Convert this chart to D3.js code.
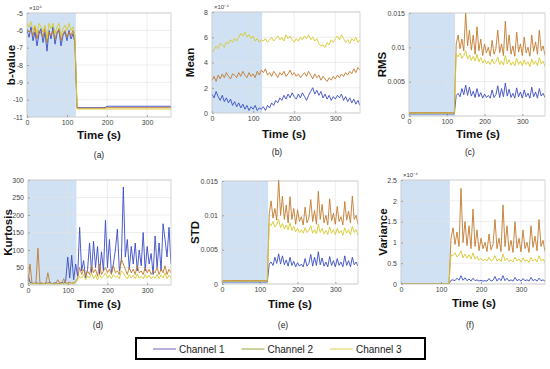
<!DOCTYPE html>
<html><head><meta charset="utf-8">
<script src="https://cdn.jsdelivr.net/npm/d3@7"></script>
<style>body{margin:0;background:#fff}svg{display:block}text{font-family:"Liberation Sans",Arial,sans-serif}</style>
</head><body><svg id="c" width="550" height="369"></svg>
<script>
// ---------- DATA ----------
const time = [0,5,10,15,20,25,30,35,40,45,50,55,60,65,70,75,80,85,90,95,100,105,110,115,120,
  125,130,135,140,145,150,155,160,165,170,175,180,185,190,195,200,205,210,215,220,225,230,235,240,
  245,250,255,260,265,270,275,280,285,290,295,300,305,310,315,320,325,330,335,340,345,350,355,360];
const shadeEnd = 122;
const xTicks = [0,100,200,300];
const channels = ["Channel 1","Channel 2","Channel 3"];
const lineColors = ["#3b4cc4","#c27a2e","#d6ca2c"];
const legendColors = ["#7a5cc0","#98a23c","#dcd44a"];

// b-value (x10^4)
const bvalCh1 = [-6.0,-6.4,-5.8,-6.6,-6.1,-6.9,-6.2,-5.9,-6.7,-6.1,-7.2,-6.0,-6.5,-5.8,-6.8,-6.2,-6.0,-6.9,-6.3,-6.1,-6.6,-6.0,-6.5,-6.2,-6.7,
  -10.46,-10.46,-10.46,-10.46,-10.46,-10.46,-10.46,-10.46,-10.46,-10.46,-10.46,-10.46,-10.46,-10.46,-10.46,
  -10.38,-10.38,-10.38,-10.38,-10.38,-10.38,-10.38,-10.38,-10.38,-10.38,-10.38,-10.38,-10.38,-10.38,-10.38,-10.38,-10.38,
  -10.38,-10.38,-10.38,-10.38,-10.38,-10.38,-10.38,-10.38,-10.38,-10.38,-10.38,-10.38,-10.38,-10.38,-10.38,-10.38];
const bvalCh2 = [-5.9,-6.1,-6.0,-6.3,-5.8,-6.5,-6.0,-6.2,-6.4,-5.9,-6.7,-6.1,-6.3,-6.0,-6.5,-6.1,-5.9,-6.6,-6.2,-6.0,-6.4,-6.1,-6.3,-6.0,-6.8,
  -10.49,-10.49,-10.49,-10.49,-10.49,-10.49,-10.49,-10.49,-10.49,-10.49,-10.49,-10.49,-10.49,-10.49,-10.49,
  -10.46,-10.46,-10.46,-10.46,-10.46,-10.46,-10.46,-10.46,-10.46,-10.46,-10.46,-10.46,-10.46,-10.46,-10.46,-10.46,-10.46,
  -10.46,-10.46,-10.46,-10.46,-10.46,-10.46,-10.46,-10.46,-10.46,-10.46,-10.46,-10.46,-10.46,-10.46,-10.46,-10.46];
const bvalCh3 = [-5.6,-5.8,-5.5,-6.0,-5.7,-6.2,-5.6,-5.8,-6.1,-5.7,-6.5,-5.6,-5.9,-5.6,-6.2,-5.8,-5.6,-6.3,-5.9,-5.7,-6.0,-5.6,-6.0,-5.8,-6.3,
  -10.54,-10.54,-10.54,-10.54,-10.54,-10.54,-10.54,-10.54,-10.54,-10.54,-10.54,-10.54,-10.54,-10.54,-10.54,
  -10.54,-10.54,-10.54,-10.54,-10.54,-10.54,-10.54,-10.54,-10.54,-10.54,-10.54,-10.54,-10.54,-10.54,-10.54,-10.54,-10.54,
  -10.54,-10.54,-10.54,-10.54,-10.54,-10.54,-10.54,-10.54,-10.54,-10.54,-10.54,-10.54,-10.54,-10.54,-10.54,-10.54];

// Mean (x10^-4)
const meanCh1 = [1.5,1.2,1.7,1.3,1.0,1.4,0.9,1.2,0.8,1.1,0.6,0.9,0.5,0.8,0.4,0.7,0.3,0.6,0.2,0.5,0.3,0.6,0.2,0.4,0.3,
  0.5,0.2,0.6,0.4,0.8,0.6,1.0,0.8,1.2,1.0,1.4,1.1,1.5,1.2,1.6,1.3,1.1,1.5,1.2,1.6,1.3,1.0,1.4,1.7,
  2.0,1.5,1.8,1.4,1.7,1.2,1.5,1.1,1.4,1.0,1.3,1.1,1.4,1.2,1.5,1.0,1.3,0.9,1.2,0.8,1.1,0.7,1.0,0.6];
const meanCh2 = [2.6,2.9,2.5,3.0,2.7,3.1,2.8,3.2,2.9,2.7,3.1,3.0,2.8,3.2,2.9,3.3,3.0,2.8,3.2,2.9,3.1,2.8,3.3,3.0,3.4,
  3.2,3.5,3.0,3.2,2.9,3.3,3.1,2.8,3.2,3.0,3.3,2.9,3.1,3.4,3.0,3.2,2.9,3.1,2.8,3.0,3.2,2.9,3.3,3.0,
  2.7,3.1,2.8,3.0,2.6,2.9,2.7,2.5,2.8,2.6,2.9,2.7,3.0,2.8,3.1,2.9,3.2,3.0,3.3,3.1,3.5,3.2,3.6,3.4];
const meanCh3 = [4.8,5.0,5.3,5.1,5.5,5.4,5.2,5.6,5.5,5.8,5.6,5.9,5.7,6.0,6.3,6.1,6.4,6.0,6.2,5.9,6.1,5.7,5.9,5.6,5.8,
  5.7,5.9,5.6,5.8,6.0,5.7,5.9,6.1,5.8,6.0,5.7,6.2,5.9,6.1,5.8,5.6,5.9,5.7,6.0,5.8,6.1,5.9,6.2,5.8,
  6.0,5.7,5.9,5.5,5.3,5.4,5.2,5.6,5.4,5.8,5.6,5.9,6.1,5.8,6.2,5.9,5.6,5.8,5.5,5.9,5.7,6.0,5.6,5.8];

// RMS
const rmsCh1 = [0.0003,0.0003,0.0003,0.0003,0.0003,0.0003,0.0003,0.0003,0.0003,0.0003,0.0003,0.0003,0.0003,0.0003,0.0003,0.0003,0.0003,0.0003,0.0003,0.0003,0.0003,0.0003,0.0003,0.0003,0.0003,
  0.0030,0.0033,0.0028,0.0040,0.0031,0.0045,0.0030,0.0042,0.0029,0.0036,0.0027,0.0040,0.0028,0.0034,0.0026,0.0032,
  0.0027,0.0030,0.0026,0.0038,0.0027,0.0031,0.0044,0.0027,0.0040,0.0028,0.0048,0.0029,0.0039,0.0027,0.0033,0.0026,
  0.0041,0.0028,0.0035,0.0026,0.0038,0.0028,0.0033,0.0026,0.0042,0.0028,0.0035,0.0026,0.0040,0.0029,0.0033,0.0027];
const rmsCh2 = [0.0005,0.0005,0.0005,0.0005,0.0005,0.0005,0.0005,0.0005,0.0005,0.0005,0.0005,0.0005,0.0005,0.0005,0.0005,0.0005,0.0005,0.0005,0.0005,0.0005,0.0005,0.0005,0.0005,0.0005,0.0005,
  0.0105,0.0118,0.0098,0.0112,0.0095,0.0150,0.0102,0.0125,0.0096,0.0118,0.0090,0.0130,0.0095,0.0112,0.0088,0.0105,
  0.0092,0.0100,0.0087,0.0110,0.0090,0.0098,0.0125,0.0092,0.0105,0.0088,0.0138,0.0095,0.0118,0.0090,0.0102,0.0087,
  0.0122,0.0093,0.0105,0.0088,0.0115,0.0092,0.0100,0.0087,0.0118,0.0094,0.0108,0.0090,0.0125,0.0095,0.0102,0.0088];
const rmsCh3 = [0.0004,0.0004,0.0004,0.0004,0.0004,0.0004,0.0004,0.0004,0.0004,0.0004,0.0004,0.0004,0.0004,0.0004,0.0004,0.0004,0.0004,0.0004,0.0004,0.0004,0.0004,0.0004,0.0004,0.0004,0.0004,
  0.0090,0.0086,0.0092,0.0084,0.0088,0.0095,0.0083,0.0089,0.0081,0.0087,0.0080,0.0090,0.0079,0.0085,0.0077,0.0082,
  0.0076,0.0080,0.0075,0.0083,0.0076,0.0079,0.0086,0.0075,0.0080,0.0074,0.0088,0.0076,0.0082,0.0074,0.0079,0.0073,
  0.0084,0.0075,0.0080,0.0073,0.0082,0.0075,0.0079,0.0072,0.0083,0.0075,0.0080,0.0073,0.0085,0.0076,0.0080,0.0072];

// Kurtosis
const kurtCh1 = [30,8,5,4,6,5,4,5,4,6,5,8,4,5,6,4,5,7,5,12,80,20,85,15,60,
  25,165,40,70,20,45,120,35,125,50,110,30,95,40,185,50,130,35,60,100,160,40,70,280,
  80,130,45,110,60,120,40,100,55,150,40,110,60,90,30,140,50,120,40,175,130,80,165,60];
const kurtCh2 = [5,60,6,5,4,105,6,5,4,5,35,6,4,5,4,15,5,4,18,5,6,8,5,7,10,
  20,50,30,45,25,40,30,55,35,45,25,60,30,40,50,35,45,30,55,35,40,30,75,60,
  45,30,50,35,45,30,55,35,40,30,50,35,45,30,40,35,50,30,45,35,55,30,45,35];
const kurtCh3 = [3,4,3,5,3,4,3,3,4,3,5,3,4,3,3,4,3,5,3,4,3,3,4,3,8,
  15,25,20,30,15,25,20,35,18,28,15,30,20,25,35,20,28,18,30,22,25,18,40,35,
  25,18,30,20,28,18,32,20,25,18,30,20,28,18,25,20,30,18,28,20,35,18,28,20];

// STD
const stdCh1 = [0.0003,0.0003,0.0003,0.0003,0.0003,0.0003,0.0003,0.0003,0.0003,0.0003,0.0003,0.0003,0.0003,0.0003,0.0003,0.0003,0.0003,0.0003,0.0003,0.0003,0.0003,0.0003,0.0003,0.0003,0.0003,
  0.0029,0.0032,0.0027,0.0039,0.0030,0.0044,0.0029,0.0041,0.0028,0.0035,0.0026,0.0039,0.0027,0.0033,0.0025,0.0031,
  0.0026,0.0029,0.0025,0.0037,0.0026,0.0030,0.0043,0.0026,0.0039,0.0027,0.0047,0.0028,0.0038,0.0026,0.0032,0.0025,
  0.0040,0.0027,0.0034,0.0025,0.0037,0.0027,0.0032,0.0025,0.0041,0.0027,0.0034,0.0025,0.0039,0.0028,0.0032,0.0026];
const stdCh2 = [0.0005,0.0005,0.0005,0.0005,0.0005,0.0005,0.0005,0.0005,0.0005,0.0005,0.0005,0.0005,0.0005,0.0005,0.0005,0.0005,0.0005,0.0005,0.0005,0.0005,0.0005,0.0005,0.0005,0.0005,0.0005,
  0.0102,0.0121,0.0096,0.0110,0.0093,0.0153,0.0100,0.0128,0.0094,0.0115,0.0089,0.0127,0.0094,0.0110,0.0087,0.0108,
  0.0091,0.0098,0.0086,0.0112,0.0089,0.0096,0.0123,0.0091,0.0107,0.0087,0.0135,0.0094,0.0116,0.0089,0.0100,0.0086,
  0.0124,0.0092,0.0103,0.0087,0.0113,0.0091,0.0098,0.0086,0.0120,0.0093,0.0106,0.0089,0.0128,0.0094,0.0100,0.0087];
const stdCh3 = [0.0004,0.0004,0.0004,0.0004,0.0004,0.0004,0.0004,0.0004,0.0004,0.0004,0.0004,0.0004,0.0004,0.0004,0.0004,0.0004,0.0004,0.0004,0.0004,0.0004,0.0004,0.0004,0.0004,0.0004,0.0004,
  0.0088,0.0085,0.0091,0.0083,0.0087,0.0094,0.0082,0.0088,0.0080,0.0086,0.0079,0.0089,0.0078,0.0084,0.0076,0.0081,
  0.0075,0.0079,0.0074,0.0082,0.0075,0.0078,0.0085,0.0074,0.0079,0.0073,0.0087,0.0075,0.0081,0.0073,0.0078,0.0072,
  0.0083,0.0074,0.0079,0.0072,0.0081,0.0074,0.0078,0.0071,0.0082,0.0074,0.0079,0.0072,0.0084,0.0075,0.0079,0.0071];

// Variance (x10^-4)
const varCh1 = [0.003,0.003,0.003,0.003,0.003,0.003,0.003,0.003,0.003,0.003,0.003,0.003,0.003,0.003,0.003,0.003,0.003,0.003,0.003,0.003,0.003,0.003,0.003,0.003,0.003,
  0.09,0.1,0.08,0.14,0.09,0.2,0.09,0.15,0.08,0.12,0.07,0.14,0.08,0.1,0.07,0.09,
  0.07,0.08,0.07,0.13,0.07,0.09,0.18,0.07,0.14,0.08,0.2,0.08,0.14,0.07,0.1,0.07,
  0.16,0.08,0.11,0.07,0.13,0.08,0.1,0.07,0.16,0.08,0.11,0.07,0.14,0.08,0.1,0.07];
const varCh2 = [0.003,0.003,0.003,0.003,0.003,0.003,0.003,0.003,0.003,0.003,0.003,0.003,0.003,0.003,0.003,0.003,0.003,0.003,0.003,0.003,0.003,0.003,0.003,0.003,0.003,
  1.1,1.35,0.95,1.25,0.9,2.3,1.0,1.5,0.92,1.4,0.85,1.8,0.9,1.3,0.8,1.1,
  0.85,1.0,0.78,1.2,0.82,0.95,1.55,0.85,1.1,0.78,1.9,0.9,1.4,0.8,1.05,0.76,
  1.5,0.86,1.1,0.77,1.3,0.85,1.0,0.76,1.4,0.88,1.15,0.8,1.55,0.9,1.05,0.78];
const varCh3 = [0.003,0.003,0.003,0.003,0.003,0.003,0.003,0.003,0.003,0.003,0.003,0.003,0.003,0.003,0.003,0.003,0.003,0.003,0.003,0.003,0.003,0.003,0.003,0.003,0.003,
  0.7,0.68,0.75,0.65,0.7,0.8,0.63,0.72,0.62,0.7,0.6,0.75,0.6,0.66,0.57,0.62,
  0.56,0.6,0.55,0.64,0.56,0.58,0.68,0.55,0.6,0.54,0.72,0.56,0.62,0.54,0.58,0.53,
  0.65,0.55,0.6,0.53,0.63,0.55,0.58,0.52,0.64,0.55,0.6,0.53,0.68,0.56,0.6,0.52];

const yTicksB = [-11,-10,-9,-8,-7,-6,-5];
const yTicksMean = [0,2,4,6,8];
const yTicksRms = [0,0.005,0.01,0.015];
const yTicksKurt = [0,50,100,150,200,250,300];
const yTicksVar = [0,0.5,1,1.5,2,2.5];

// ---------- LAYOUT ----------
const panels = [
  {tag:"(a)", ylab:"b-value", exp:"×10⁴", series:[bvalCh1,bvalCh2,bvalCh3], ydom:[-11,-5], yt:yTicksB,
   box:[27,171,13,117], ylx:11, tl:[99,139], sl:[99,158]},
  {tag:"(b)", ylab:"Mean", exp:"×10⁻⁴", series:[meanCh1,meanCh2,meanCh3], ydom:[0,8], yt:yTicksMean,
   box:[212,360,12,113], ylx:190, tl:[284,138], sl:[277,155]},
  {tag:"(c)", ylab:"RMS", exp:null, series:[rmsCh1,rmsCh2,rmsCh3], ydom:[0,0.015], yt:yTicksRms,
   box:[409,545,13,116], ylx:382, tl:[478,138], sl:[470,155]},
  {tag:"(d)", ylab:"Kurtosis", exp:null, series:[kurtCh1,kurtCh2,kurtCh3], ydom:[0,300], yt:yTicksKurt,
   box:[28,171,180,285], ylx:8, tl:[99,308], sl:[98,328]},
  {tag:"(e)", ylab:"STD", exp:null, series:[stdCh1,stdCh2,stdCh3], ydom:[0,0.015], yt:yTicksRms,
   box:[222,358,181,284], ylx:195, tl:[290,308], sl:[283,328]},
  {tag:"(f)", ylab:"Variance", exp:"×10⁻⁴", series:[varCh1,varCh2,varCh3], ydom:[0,2.5], yt:yTicksVar,
   box:[401,545,180,284], ylx:383, tl:[474,307], sl:[470,328]}
];

const svg = d3.select("#c");
const fmt = d => String(+(+d).toFixed(4));

panels.forEach((p, pi) => {
  const [x0,x1,y0,y1] = p.box;
  const x = d3.scaleLinear().domain([0,360]).range([x0,x1]);
  const y = d3.scaleLinear().domain(p.ydom).range([y1,y0]);
  const g = svg.append("g");
  g.append("rect").attr("x",x0).attr("y",y0).attr("width",x1-x0).attr("height",y1-y0).attr("fill","#fff");
  // shaded interval
  g.append("rect").attr("x",x(0)).attr("y",y0).attr("width",x(shadeEnd)-x(0)).attr("height",y1-y0)
    .attr("fill","#cfe1f3");
  // grid
  g.selectAll(".gx").data(xTicks).join("line").attr("x1",d=>x(d)).attr("x2",d=>x(d))
    .attr("y1",y0).attr("y2",y1).attr("stroke","#e3e3e3").attr("stroke-width",0.6);
  g.selectAll(".gy").data(p.yt).join("line").attr("y1",d=>y(d)).attr("y2",d=>y(d))
    .attr("x1",x0).attr("x2",x1).attr("stroke","#e3e3e3").attr("stroke-width",0.6);
  // clip
  const cid = "clip"+pi;
  svg.append("clipPath").attr("id",cid).append("rect").attr("x",x0).attr("y",y0-1).attr("width",x1-x0).attr("height",y1-y0+1);
  const line = d3.line().x((d,i)=>x(time[i])).y(d=>y(d));
  g.append("g").attr("clip-path",`url(#${cid})`).selectAll("path").data(p.series).join("path")
    .attr("d",line).attr("fill","none").attr("stroke",(d,i)=>lineColors[i]).attr("stroke-width",0.9)
    .attr("stroke-linejoin","round");
  // axes
  const ax = g.append("g").attr("transform",`translate(0,${y1})`)
    .call(d3.axisBottom(x).tickValues(xTicks).tickSize(-2).tickPadding(3).tickFormat(fmt));
  const ay = g.append("g").attr("transform",`translate(${x0},0)`)
    .call(d3.axisLeft(y).tickValues(p.yt).tickSize(-2).tickPadding(3).tickFormat(fmt));
  [ax,ay].forEach(a=>{
    a.select(".domain").remove();
    a.selectAll("line").attr("stroke","#555").attr("stroke-width",0.5);
    a.selectAll("text").attr("font-size",7).attr("fill","#444").style("font-family","'Liberation Sans',Arial,sans-serif");
  });
  ay.selectAll("text").attr("dx",-1);
  g.append("rect").attr("x",x0).attr("y",y0).attr("width",x1-x0).attr("height",y1-y0)
    .attr("fill","none").attr("stroke","#c4c4c4").attr("stroke-width",0.7);
  if (p.exp) g.append("text").attr("x",x0+2).attr("y",y0-3).attr("font-size",6).attr("fill","#444").text(p.exp);
  // labels
  g.append("text").attr("x",p.tl[0]).attr("y",p.tl[1]).attr("text-anchor","middle")
    .attr("font-size",11.5).attr("font-weight","bold").attr("fill","#111").text("Time (s)");
  g.append("text").attr("transform",`translate(${p.ylx+4},${(y0+y1)/2}) rotate(-90)`).attr("text-anchor","middle")
    .attr("font-size",11.5).attr("font-weight","bold").attr("fill","#111").text(p.ylab);
  g.append("text").attr("x",p.sl[0]).attr("y",p.sl[1]).attr("text-anchor","middle")
    .attr("font-size",8.5).attr("fill","#222").text(p.tag);
});

// legend
const lg = svg.append("g");
lg.append("rect").attr("x",136).attr("y",338).attr("width",289).attr("height",21)
  .attr("fill","#fff").attr("stroke","#000").attr("stroke-width",2);
const lx = d3.scalePoint().domain(channels).range([153,330]);
channels.forEach((c,i)=>{
  const sx = lx(c);
  lg.append("line").attr("x1",sx).attr("x2",sx+23).attr("y1",349).attr("y2",349)
    .attr("stroke",legendColors[i]).attr("stroke-width",1);
  lg.append("text").attr("x",sx+26).attr("y",352.5).attr("font-size",10).attr("fill","#222").text(c);
});
</script></body></html>
